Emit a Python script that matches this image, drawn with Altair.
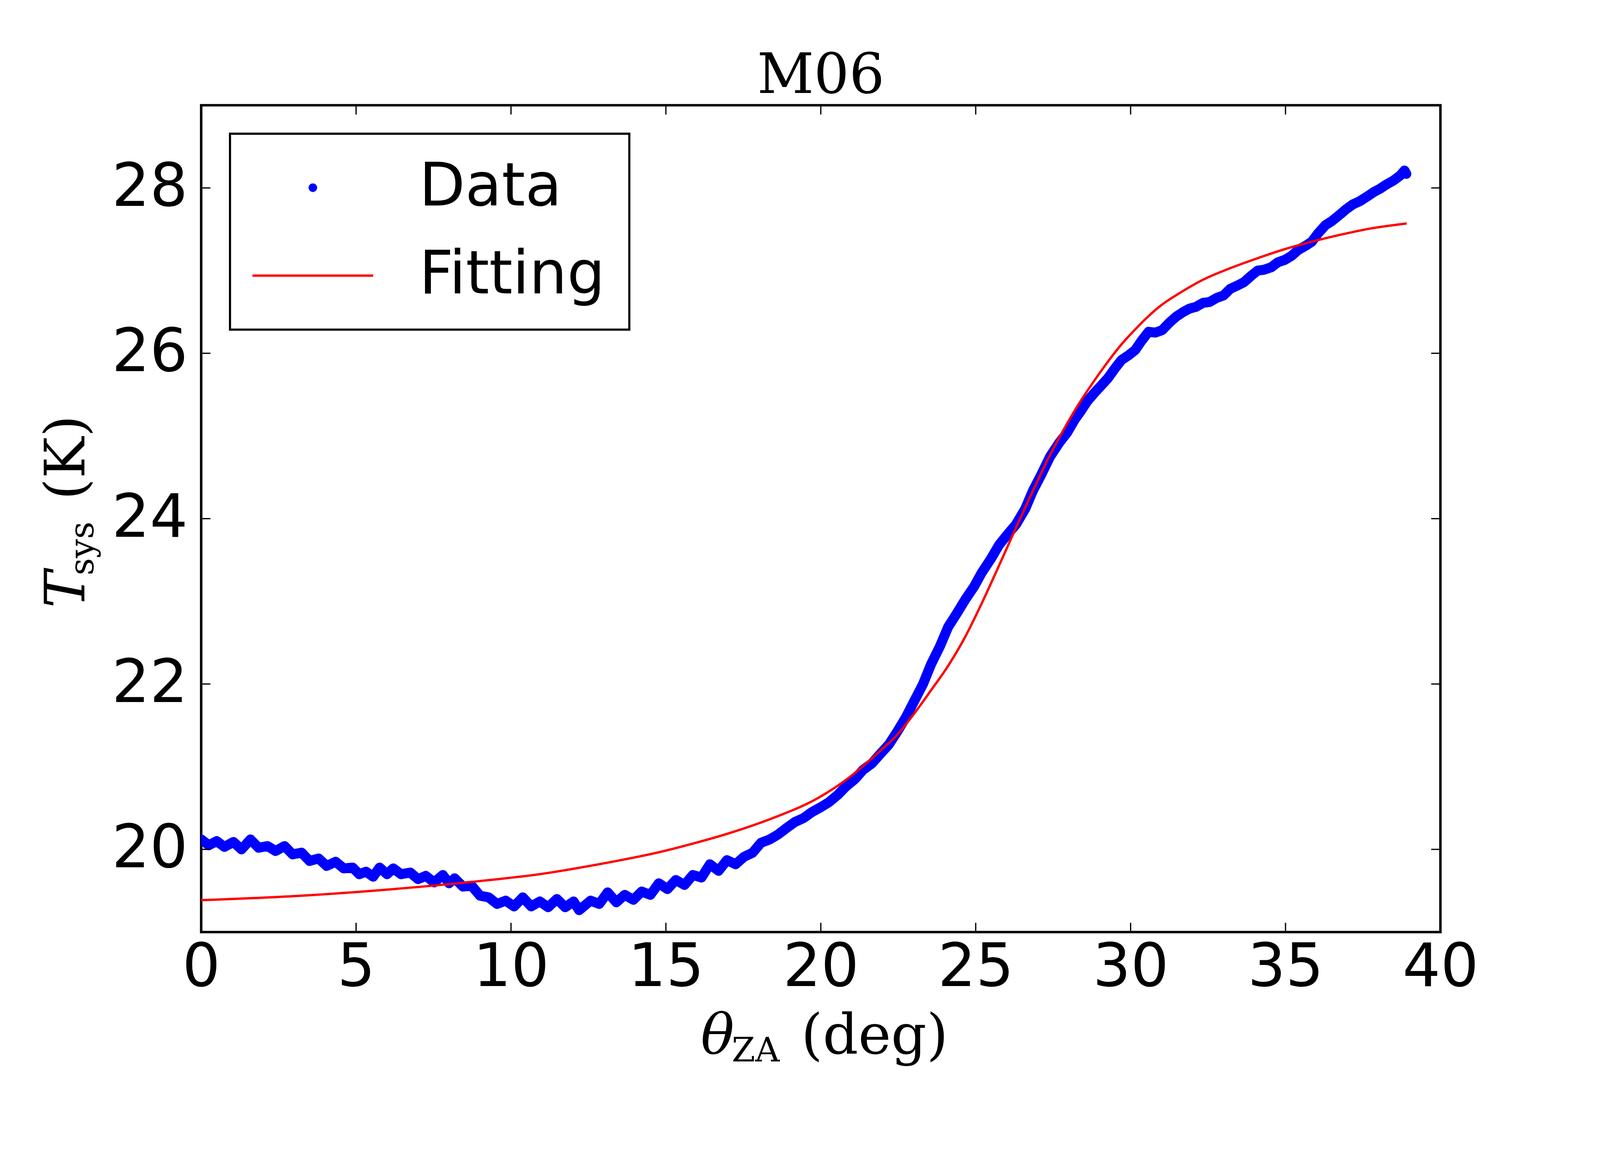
import altair as alt
import pandas as pd

# ---- data ----
data_x = [0.0, 0.25, 0.5, 0.75, 1.04, 1.3, 1.59, 1.85, 2.14, 2.4, 2.69, 2.95, 3.24, 3.5, 3.79,
          4.05, 4.34, 4.6, 4.89, 5.1, 5.32, 5.55, 5.76, 6.0, 6.2, 6.45, 6.75, 7.0, 7.25, 7.52,
          7.8, 8.0, 8.18, 8.45, 8.73, 9.0, 9.28, 9.55, 9.83, 10.1, 10.38, 10.65, 10.93, 11.2,
          11.48, 11.75, 12.02, 12.2, 12.57, 12.85, 13.12, 13.4, 13.67, 13.95, 14.22, 14.5,
          14.77, 15.05, 15.32, 15.6, 15.87, 16.15, 16.42, 16.7, 16.97, 17.25, 17.52, 17.8,
          18.07, 18.35, 18.62, 18.9, 19.16, 19.45, 19.71, 20.0, 20.26, 20.55, 20.81, 21.1,
          21.36, 21.65, 21.91, 22.2, 22.46, 22.75, 23.01, 23.3, 23.56, 23.85, 24.11, 24.4,
          24.66, 24.95, 25.2, 25.5, 25.75, 26.05, 26.3, 26.6, 26.85, 27.1, 27.4, 27.7, 27.95,
          28.2, 28.39, 28.6, 28.83, 29.05, 29.27, 29.5, 29.71, 29.95, 30.15, 30.35, 30.58,
          30.8, 31.02, 31.25, 31.46, 31.7, 31.9, 32.1, 32.34, 32.55, 32.78, 33.0, 33.22, 33.45,
          33.66, 33.9, 34.1, 34.3, 34.54, 34.75, 34.98, 35.2, 35.41, 35.65, 35.85, 36.05,
          36.29, 36.5, 36.73, 36.95, 37.17, 37.4, 37.61, 37.85, 38.05, 38.25, 38.49, 38.7,
          38.84, 38.9]
data_y = [20.12, 20.05, 20.10, 20.03, 20.09, 20.00, 20.12, 20.02, 20.04, 19.98, 20.04, 19.94,
          19.96, 19.86, 19.89, 19.80, 19.85, 19.77, 19.78, 19.70, 19.73, 19.67, 19.78, 19.70,
          19.77, 19.70, 19.72, 19.64, 19.68, 19.60, 19.69, 19.59, 19.65, 19.55, 19.56, 19.44,
          19.42, 19.34, 19.38, 19.31, 19.42, 19.31, 19.37, 19.30, 19.40, 19.30, 19.37, 19.265,
          19.38, 19.34, 19.48, 19.36, 19.45, 19.39, 19.49, 19.45, 19.59, 19.52, 19.63, 19.57,
          19.69, 19.66, 19.82, 19.74, 19.87, 19.82, 19.91, 19.96, 20.08, 20.12, 20.18, 20.26,
          20.33, 20.38, 20.45, 20.51, 20.57, 20.66, 20.76, 20.85, 20.96, 21.04, 21.15, 21.27,
          21.42, 21.60, 21.79, 22.00, 22.24, 22.46, 22.69, 22.86, 23.02, 23.18, 23.35, 23.52,
          23.68, 23.82, 23.93, 24.12, 24.34, 24.52, 24.75, 24.92, 25.04, 25.20, 25.30, 25.42,
          25.52, 25.61, 25.70, 25.82, 25.92, 25.98, 26.04, 26.15, 26.26, 26.25, 26.28, 26.37,
          26.44, 26.50, 26.54, 26.56, 26.61, 26.62, 26.67, 26.70, 26.78, 26.82, 26.86, 26.94,
          27.00, 27.01, 27.04, 27.10, 27.13, 27.18, 27.25, 27.30, 27.35, 27.45, 27.55, 27.60,
          27.67, 27.74, 27.80, 27.84, 27.89, 27.95, 27.99, 28.04, 28.09, 28.15, 28.21, 28.17]

fit_x = [0.0, 3.24, 6.53, 8.73, 10.93, 13.12, 14.77, 15.87, 17.08, 18.6, 19.71, 20.81,
         21.91, 22.5, 23.01, 23.55, 24.11, 24.66, 25.2, 25.75, 26.3, 26.85, 27.4, 27.95, 28.4,
         28.83, 29.27, 29.71, 30.15, 30.58, 31.02, 31.46, 31.9, 32.34, 33.22, 34.1, 34.98,
         35.85, 36.73, 37.61, 38.91]
fit_y = [19.386, 19.44, 19.53, 19.607, 19.70, 19.84, 19.965, 20.07, 20.20, 20.40, 20.58,
         20.84, 21.19, 21.40, 21.64, 21.92, 22.22, 22.57, 22.98, 23.43, 23.89, 24.34, 24.77,
         25.15, 25.43, 25.67, 25.90, 26.11, 26.29, 26.45, 26.59, 26.70, 26.80, 26.89, 27.03,
         27.15, 27.26, 27.35, 27.43, 27.50, 27.57]

series = ["Data", "Fitting"]
x_ticks = [0, 5, 10, 15, 20, 25, 30, 35, 40]
y_ticks = [20, 22, 24, 26, 28]

W, H = 3485, 2325
SERIF = "DejaVu Serif"
SANS = "DejaVu Sans"

df = pd.DataFrame({"x": data_x, "y": data_y, "series": ["Data"] * len(data_x)})
fdf = pd.DataFrame({"x": fit_x, "y": fit_y})
xt = pd.DataFrame({"x": x_ticks})
yt = pd.DataFrame({"y": y_ticks})
one = pd.DataFrame({"k": [0]})

xs = alt.Scale(domain=[0, 40], nice=False, zero=False)
ys = alt.Scale(domain=[19, 29], nice=False, zero=False)

CIRCLE = "M-0.143,0A0.143,0.143 0 1,0 0.143,0A0.143,0.143 0 1,0 -0.143,0Z"
BAR = "M-2.02,-0.039H2.02V0.039H-2.02Z"
SYM = 28224

xaxis = alt.Axis(values=x_ticks, labelFont=SANS, labelFontSize=168, labelColor="black",
                 labelPadding=18, ticks=False, domain=False, grid=False, title=None,
                 labelFlush=False, labelLimit=0, labelOverlap=False)
yaxis = alt.Axis(values=y_ticks, labelFont=SANS, labelFontSize=168, labelColor="black",
                 labelPadding=38, ticks=False, domain=False, grid=False, title=None,
                 labelLimit=0, labelOverlap=False)

X = alt.X("x:Q", scale=xs, axis=xaxis)
Y = alt.Y("y:Q", scale=ys, axis=yaxis)

leg = dict(orient="none", legendX=81, legendY=80, padding=68, symbolOffset=81,
           labelOffset=215, rowPadding=79, labelFontSize=168, labelFont=SANS,
           labelColor="black", symbolSize=SYM, symbolStrokeWidth=0, strokeColor="black",
           fillColor="white", labelLimit=0, title=None, symbolOpacity=1)

band = alt.Chart(df).mark_line(color="#0000ff", strokeWidth=28, strokeJoin="round",
                               strokeCap="round", clip=True).encode(x=X, y=Y)

pts = alt.Chart(df).mark_point(filled=True, size=SYM, opacity=1, strokeWidth=0, clip=True).encode(
    x=X, y=Y,
    color=alt.Color("series:N", scale=alt.Scale(domain=series, range=["#0000ff", "#ff0000"]),
                    legend=alt.Legend(**leg)),
    shape=alt.Shape("series:N", scale=alt.Scale(domain=series, range=[CIRCLE, BAR]),
                    legend=alt.Legend(**leg)),
)

fitline = alt.Chart(fdf).mark_line(color="#ff0000", strokeWidth=6.5, interpolate="monotone",
                                   clip=True).encode(x=X, y=Y)

TL = 26
tick_kw = dict(color="black", strokeWidth=3.5)
t_left = alt.Chart(yt).mark_rule(**tick_kw).encode(y=Y, x=alt.value(0), x2=alt.value(TL))
t_right = alt.Chart(yt).mark_rule(**tick_kw).encode(y=Y, x=alt.value(W - TL), x2=alt.value(W))
t_bottom = alt.Chart(xt).mark_rule(**tick_kw).encode(x=X, y=alt.value(H - TL), y2=alt.value(H))
t_top = alt.Chart(xt).mark_rule(**tick_kw).encode(x=X, y=alt.value(0), y2=alt.value(TL))


def label(txt, x, y, size, italic=False, angle=0):
    kw = dict(text=txt, font=SERIF, fontSize=size, align="left", baseline="alphabetic",
              color="black")
    if italic:
        kw["fontStyle"] = "italic"
    if angle:
        kw["angle"] = angle
    return alt.Chart(one).mark_text(**kw).encode(x=alt.value(x), y=alt.value(y))


xl1 = label("θ", 1405, H + 342, 156, italic=True)
xl2 = label("ZA", 1492, H + 364, 95)
xl3 = label("(deg)", 1687, H + 342, 156)
yl1 = label("T", -329, 1414, 156, italic=True, angle=270)
yl2 = label("sys", -303, 1322, 95, angle=270)
yl3 = label("(K)", -329, 1110, 156, angle=270)

chart = alt.layer(
    band, pts, fitline, t_left, t_right, t_bottom, t_top, xl1, xl2, xl3, yl1, yl2, yl3
).properties(
    width=W, height=H,
    title=alt.TitleParams(text="M06", font=SERIF, fontSize=156, fontWeight="normal",
                          anchor="middle", offset=0, color="black"),
    autosize=alt.AutoSizeParams(type="none"),
    padding={"left": 557, "top": 141, "right": 440, "bottom": 500},
).configure(
    font=SANS, background="white"
).configure_view(
    stroke="black", strokeWidth=7
).configure_legend(
    strokeWidth=6
)

chart.save("out.html", embed_options={"renderer": "svg", "actions": False})
